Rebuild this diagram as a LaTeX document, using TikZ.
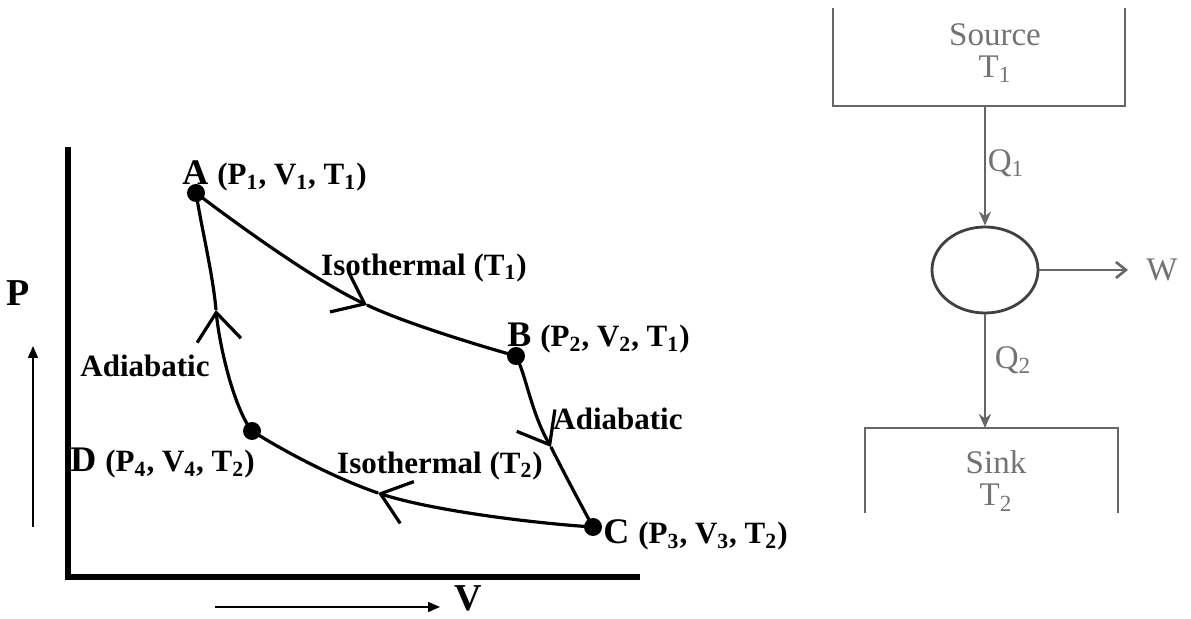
\documentclass[tikz,border=0pt]{standalone}
\usepackage{fontspec}
\setmainfont{Liberation Serif}
\usetikzlibrary{positioning,arrows.meta,shapes.geometric}

\newcommand{\pvt}[3]{{\fontsize{15.5}{18}\selectfont(P\textsubscript{#1}, V\textsubscript{#2}, T\textsubscript{#3})}}

\begin{document}
\begin{tikzpicture}[x=0.5pt, y=-0.5pt,
    dot/.style={circle, fill=black, inner sep=0pt, minimum size=9pt},
    cyc/.style={line width=1.6pt},
    cycarrow/.style={cyc, -{Straight Barb[length=14pt, width=22pt, line width=1.6pt]}},
    axis/.style={line width=2.6pt},
    axarrow/.style={line width=0.8pt, -{Triangle[length=6pt, width=5pt]}},
    lbl/.style={font=\fontsize{15.5}{18}\selectfont\bfseries, inner sep=0pt},
    ptlbl/.style={font=\fontsize{18}{20}\selectfont\bfseries, inner sep=0pt, anchor=base west},
    axlbl/.style={font=\fontsize{19}{22}\selectfont\bfseries, inner sep=0pt},
    gtext/.style={text=black!55, font=\fontsize{16.5}{16}\selectfont, align=center, inner sep=0pt},
    glines/.style={draw=black!60, line width=1.3pt},
    flow/.style={glines, -{Stealth[length=7pt, width=6pt]}}
]
\useasboundingbox (0,0) rectangle (1191,619);

% ============================
% P-V diagram
% ============================
% Axes
\draw[axis] (68,147) -- (68,577) -- (640,577);
\node[axlbl] (Plbl) at (18,293) {P};
\node[axlbl] (Vlbl) at (468,598) {V};
\coordinate (p0) at (33,527);
\coordinate (p1) at (33,346);
\coordinate (v0) at (215,607);
\coordinate (v1) at (440,607);
\draw[axarrow] (p0) -- (p1);
\draw[axarrow] (v0) -- (v1);

% State points
\node[dot] (A) at (196,193) {};
\node[dot] (B) at (516,356) {};
\node[dot] (C) at (593,527) {};
\node[dot] (D) at (252,431) {};
\node[ptlbl] (lA) at (182,185) {A \pvt{1}{1}{1}};
\node[ptlbl] (lB) at (507,347) {B \pvt{2}{2}{1}};
\node[ptlbl] (lC) at (603,544) {C \pvt{3}{3}{2}};
\node[ptlbl] (lD) at (70,472) {D \pvt{4}{4}{2}};

% Arrow marks on the cycle
\coordinate (ab) at (367,305);
\coordinate (bc) at (551,447);
\coordinate (cd) at (378,493);
\coordinate (da) at (216,310);

% Cycle
\draw[cycarrow] (A.center) .. controls (250,234) and (320,283) .. (ab);
\draw[cyc] (ab) .. controls (400,321) and (470,343) .. (B.center);
\draw[cycarrow] (B.center) .. controls (526,375) and (531,412) .. (bc);
\draw[cyc] (bc) .. controls (565,475) and (580,503) .. (C.center);
\draw[cycarrow] (C.center) .. controls (530,523) and (430,510) .. (cd);
\draw[cyc] (cd) .. controls (340,480) and (290,455) .. (D.center);
\draw[cycarrow] (D.center) .. controls (235,410) and (220,350) .. (da);
\draw[cyc] (da) .. controls (213,275) and (202,230) .. (A.center);

% Process labels
\node[lbl] (iso1) at (424,268) {Isothermal (T\textsubscript{1})};
\node[lbl] (adi1) at (618,419) {Adiabatic};
\node[lbl] (iso2) at (440,466) {Isothermal (T\textsubscript{2})};
\node[lbl] (adi2) at (145,366) {Adiabatic};

% ============================
% Heat engine
% ============================
\draw[glines] (833,8) -- (833,106) -- (1125,106) -- (1125,8);
\draw[glines] (865,513) -- (865,428) -- (1118,428) -- (1118,513);
\node[gtext] (source) at (995,53) {Source\\T\textsubscript{1}};
\node[gtext] (sink) at (996,481) {Sink\\T\textsubscript{2}};

\node[ellipse, draw=black!75, line width=1.4pt, minimum width=53pt, minimum height=43pt,
      inner sep=0pt] (engine) at (985,270) {};
\coordinate (srcout) at (985,106);
\coordinate (snkin) at (985,428);
\coordinate (wend) at (1128,270);

\draw[flow] (srcout) -- (engine.north);
\draw[flow] (engine.south) -- (snkin);
\draw[glines, -{Straight Barb[length=5pt, width=8pt]}] (engine.east) -- (wend);

\node[gtext] (q1) at (1006,163) {Q\textsubscript{1}};
\node[gtext] (q2) at (1013,360) {Q\textsubscript{2}};
\node[gtext] (w) at (1162,270) {W};

\end{tikzpicture}
\end{document}
